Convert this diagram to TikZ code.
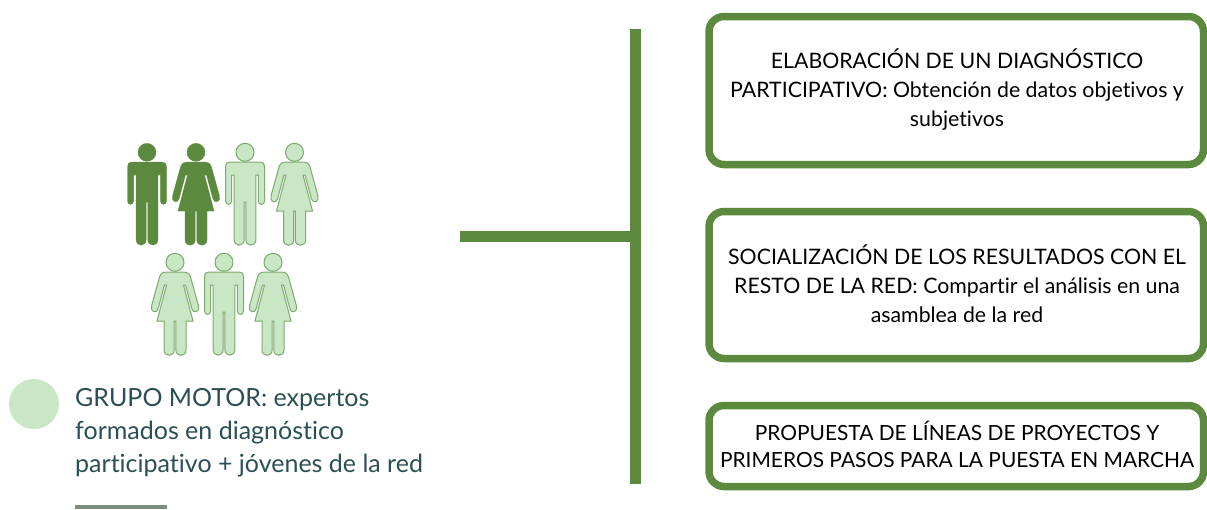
\documentclass[tikz,border=0pt]{standalone}
\usepackage{fontspec}
\setmainfont[Ligatures={NoCommon,NoRequired,NoContextual}]{Lato}
\definecolor{gmain}{HTML}{5B8A3F}
\definecolor{glight}{HTML}{C9E6C5}
\definecolor{gedge}{HTML}{7EA96F}
\definecolor{tealtext}{HTML}{2B4F55}
\definecolor{barcol}{HTML}{7A8F7C}
\tikzset{
  x=1pt,y=-1pt,
  darkfig/.style={fill=gmain,draw=gmain,line width=0.3pt},
  lightfig/.style={fill=glight,draw=gedge,line width=1pt},
  stepbox/.style={draw=gmain,line width=7.5pt,rounded corners=15pt,fill=white},
  boxtext/.style={align=center,font=\fontsize{21.3}{29}\selectfont,text=black,inner sep=0pt},
  trunk/.style={draw=gmain,line width=11pt},
  man/.pic={
    \path[pic actions] (0,9.3) circle[radius=9];
    \path[pic actions] (-15,19) -- (15,19) .. controls (18,19) and (19.5,20.5) .. (19.5,23.5)
      -- (19.5,58) .. controls (19.5,62.5) and (13.4,62.5) .. (13.4,58) -- (13.4,32) -- (10.9,32)
      -- (10.9,96.5) .. controls (10.9,104) and (0.8,104) .. (0.8,96.5) -- (0.8,59) -- (-0.8,59)
      -- (-0.8,96.5) .. controls (-0.8,104) and (-10.9,104) .. (-10.9,96.5) -- (-10.9,32) -- (-13.4,32)
      -- (-13.4,58) .. controls (-13.4,62.5) and (-19.5,62.5) .. (-19.5,58) -- (-19.5,23.5) .. controls (-19.5,20.5) and (-18,19) .. (-15,19) -- cycle;
  },
  woman/.pic={
    \path[pic actions] (0,9.3) circle[radius=9];
    \path[pic actions] (-9,19) -- (9,19) .. controls (12,19) and (14,20) .. (15.5,24)
      -- (23.5,53) .. controls (25,59) and (18.5,61) .. (17,56) -- (10.5,32) -- (8.5,32) -- (18,68) -- (11,68)
      -- (11,97) .. controls (11,104) and (0.8,104) .. (0.8,97) -- (0.8,68) -- (-0.8,68)
      -- (-0.8,97) .. controls (-0.8,104) and (-11,104) .. (-11,97) -- (-11,68) -- (-18,68) -- (-8.5,32) -- (-10.5,32)
      -- (-17,56) .. controls (-18.5,61) and (-25,59) .. (-23.5,53) -- (-15.5,24) .. controls (-14,20) and (-12,19) .. (-9,19) -- cycle;
  },
}
\begin{document}
\begin{tikzpicture}
\useasboundingbox (0,0) rectangle (1207,509);
% people
\pic[darkfig] at (147,143) {man};
\pic[darkfig] at (196,143) {woman};
\pic[lightfig] at (245,143) {man};
\pic[lightfig] at (294.5,143) {woman};
\pic[lightfig] at (175,253) {woman};
\pic[lightfig] at (224,253) {man};
\pic[lightfig] at (273,253) {woman};
% legend
\node[circle,fill=glight,minimum size=50pt,inner sep=0pt] (dot) at (34,404) {};
\node[anchor=north west,align=left,inner sep=0pt,text=tealtext,font=\fontsize{25}{33}\selectfont] (legend) at (75,388) {GRUPO MOTOR: expertos\\formados en diagnóstico\\participativo + jóvenes de la red};
\fill[barcol] (75,505) rectangle (167,509);
% connectors
\coordinate (stemstart) at (460,236);
\coordinate (trunktop) at (635,29);
\coordinate (trunkbottom) at (635,484);
\coordinate (stemend) at (635,236);
\draw[trunk] (trunktop) -- (trunkbottom);
\draw[trunk] (stemstart) -- (stemend);
% boxes
\draw[stepbox] (709,16.5) rectangle (1203.5,164.5);
\node[boxtext] (b1) at (957,90) {ELABORACIÓN DE UN DIAGNÓSTICO\\PARTICIPATIVO: Obtención de datos objetivos y\\subjetivos};
\draw[stepbox] (709,211.5) rectangle (1203.5,358.5);
\node[boxtext] (b2) at (957,284) {SOCIALIZACIÓN DE LOS RESULTADOS CON EL\\RESTO DE LA RED: Compartir el análisis en una\\asamblea de la red};
\draw[stepbox] (709,405.5) rectangle (1203.5,486.5);
\node[boxtext,font=\fontsize{20.9}{27}\selectfont] (b3) at (957,444.5) {PROPUESTA DE LÍNEAS DE PROYECTOS Y\\PRIMEROS PASOS PARA LA PUESTA EN MARCHA};
\end{tikzpicture}
\end{document}
